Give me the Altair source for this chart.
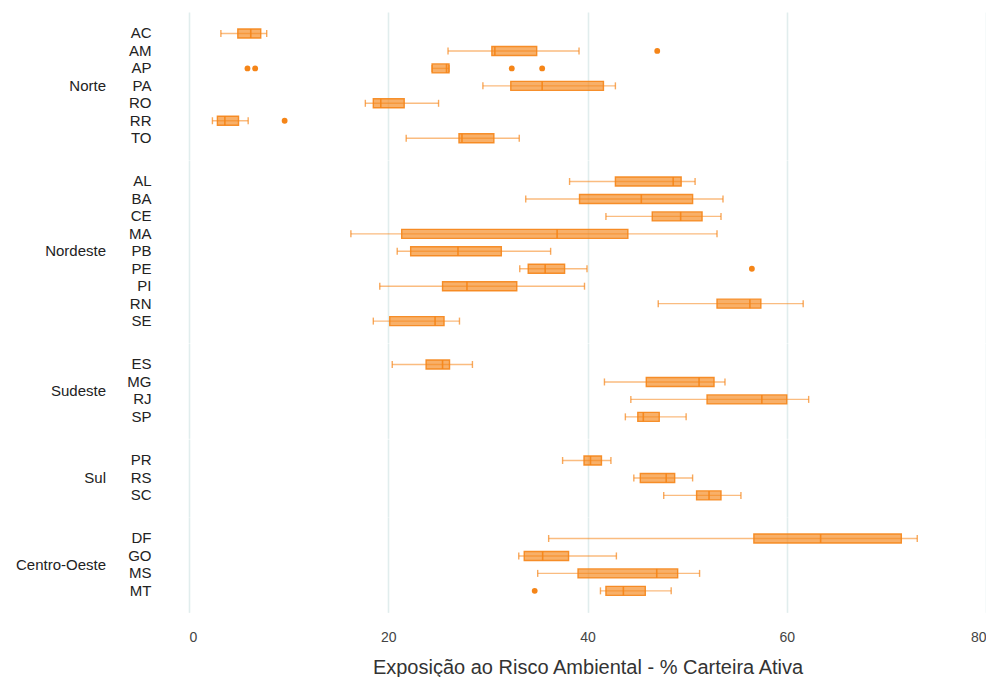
import altair as alt
import pandas as pd

regioes = ["Norte"] * 7 + ["Nordeste"] * 9 + ["Sudeste"] * 4 + ["Sul"] * 3 + ["Centro-Oeste"] * 4
ufs = ["AC", "AM", "AP", "PA", "RO", "RR", "TO",
       "AL", "BA", "CE", "MA", "PB", "PE", "PI", "RN", "SE",
       "ES", "MG", "RJ", "SP",
       "PR", "RS", "SC",
       "DF", "GO", "MS", "MT"]
lower = [3.2, 26.0, 24.4, 29.5, 17.7, 2.35, 21.8,
         38.2, 33.8, 41.85, 16.25, 20.9, 33.2, 19.15, 47.1, 18.5,
         20.4, 41.7, 44.35, 43.8,
         37.5, 44.65, 47.65,
         36.1, 33.1, 35.0, 41.3]
q1 = [4.9, 30.4, 24.4, 32.3, 18.5, 2.85, 27.1,
      42.8, 39.2, 46.5, 21.35, 22.25, 34.05, 25.45, 53.0, 20.15,
      23.8, 45.9, 52.0, 45.05,
      39.65, 45.3, 50.95,
      56.7, 33.65, 39.05, 41.85]
median = [6.2, 30.7, 25.85, 35.45, 19.25, 3.6, 27.4,
          48.6, 45.4, 49.35, 36.95, 27.0, 35.75, 27.9, 56.3, 24.7,
          25.45, 51.2, 57.5, 45.6,
          40.3, 47.9, 52.2,
          63.4, 35.5, 46.95, 43.6]
q3 = [7.2, 34.9, 26.1, 41.6, 21.6, 4.97, 30.6,
      49.4, 50.55, 51.5, 44.05, 31.35, 37.7, 32.9, 57.4, 25.6,
      26.15, 52.7, 60.0, 47.2,
      41.4, 48.75, 53.4,
      71.5, 38.1, 49.05, 45.8]
upper = [7.8, 39.15, 26.1, 42.8, 25.05, 5.94, 33.15,
         50.8, 53.6, 53.4, 53.0, 36.3, 39.95, 39.7, 61.65, 27.15,
         28.45, 53.8, 62.2, 49.9,
         42.35, 50.55, 55.4,
         73.1, 42.9, 51.25, 48.4]

outlier_uf = ["AM", "AP", "AP", "AP", "AP", "RR", "PE", "MT"]
outlier_val = [47.0, 5.87, 6.64, 32.4, 35.45, 9.6, 56.5, 34.7]

region_order = ["Norte", "Nordeste", "Sudeste", "Sul", "Centro-Oeste"]
tick_values = [0, 20, 40, 60, 80]

uf_to_reg = dict(zip(ufs, regioes))
box_df = pd.DataFrame({
    "kind": "box", "regiao": regioes, "uf": ufs,
    "lo": lower, "q1": q1, "med": median, "q3": q3, "hi": upper,
})
out_df = pd.DataFrame({
    "kind": "out", "regiao": [uf_to_reg[u] for u in outlier_uf],
    "uf": outlier_uf, "v": outlier_val,
})
df = pd.concat([box_df, out_df], ignore_index=True)

COLOR = "#F58518"
FONT = "Liberation Sans"

xscale = alt.Scale(domain=[0, 80], nice=False, zero=False)
yscale = alt.Scale(type="band", paddingInner=0, paddingOuter=0.732)
xaxis = alt.Axis(values=tick_values, grid=True, gridColor="#e1eded", gridWidth=1.6,
                 domain=False, ticks=False, labelFontSize=14, labelColor="#444444",
                 labelPadding=17, titleFontSize=20, titleFontWeight="normal",
                 titleColor="#333333", titlePadding=13, labelFont=FONT, titleFont=FONT)
yaxis = alt.Axis(title=None, domain=False, ticks=False, grid=False, labelFontSize=15,
                 labelColor="#222222", labelPadding=38, labelFont=FONT)

ybase = alt.Y("uf:N", scale=yscale, axis=yaxis)
is_box = alt.datum.kind == "box"

whisker = alt.Chart().mark_rule(color=COLOR, strokeWidth=1.4, opacity=0.55).encode(
    x=alt.X("lo:Q", scale=xscale, axis=xaxis,
            title="Exposição ao Risco Ambiental - % Carteira Ativa"),
    x2="hi:Q", y=ybase,
).transform_filter(is_box)

cap_lo = alt.Chart().mark_tick(color=COLOR, size=7, thickness=1.4, opacity=0.7).encode(
    x="lo:Q", y=ybase).transform_filter(is_box)
cap_hi = alt.Chart().mark_tick(color=COLOR, size=7, thickness=1.4, opacity=0.7).encode(
    x="hi:Q", y=ybase).transform_filter(is_box)

box = alt.Chart().mark_bar(size=9, color=COLOR, fillOpacity=0.65, stroke=COLOR,
                           strokeOpacity=0.9, strokeWidth=1.4).encode(
    x="q1:Q", x2="q3:Q", y=ybase).transform_filter(is_box)

med = alt.Chart().mark_tick(color=COLOR, size=9, thickness=1.6, opacity=0.9).encode(
    x="med:Q", y=ybase).transform_filter(is_box)

pts = alt.Chart().mark_circle(color=COLOR, size=34, opacity=1).encode(
    x="v:Q", y=ybase).transform_filter(alt.datum.kind == "out")

layer = alt.layer(whisker, cap_lo, cap_hi, box, med, pts).properties(
    width=797, height=alt.Step(17.45))

chart = layer.facet(
    data=df,
    row=alt.Row("regiao:N", sort=region_order,
                header=alt.Header(title=None, labelOrient="left", labelAngle=0,
                                  labelAlign="left", labelBaseline="middle",
                                  labelFontSize=15, labelColor="#222222",
                                  labelFont=FONT, labelPadding=20)),
    spacing=0,
).resolve_scale(y="independent").properties(
    padding={"left": 7, "top": 4, "right": 0, "bottom": 0}
).configure(font=FONT).configure_view(strokeWidth=0, stroke="transparent")

chart.save("out.html", embed_options={"renderer": "svg", "actions": False})
